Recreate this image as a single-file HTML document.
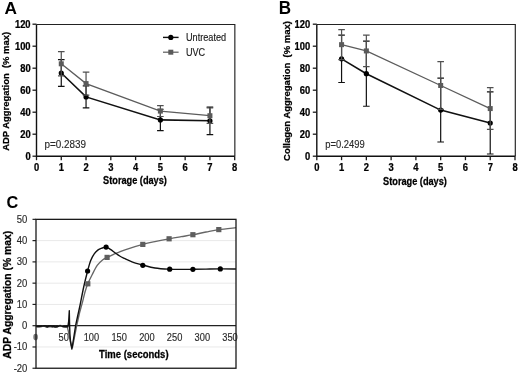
<!DOCTYPE html>
<html><head><meta charset="utf-8"><style>html,body{margin:0;padding:0;background:#fff;width:520px;height:373px;overflow:hidden}svg{display:block;will-change:transform}</style></head>
<body>
<svg width="520" height="373" viewBox="0 0 520 373" font-family='"Liberation Sans", sans-serif'>
<rect width="520" height="373" fill="#fff"/>
<text transform="translate(4.6,14.4) scale(1.08,1)" font-size="16" font-weight="bold" fill="#000" xml:space="preserve">A</text>
<path d="M36.5,24.45 H234.85 V156.2" fill="none" stroke="#222" stroke-width="1.15"/>
<path d="M36.5,24.45 V156.2 H234.85" fill="none" stroke="#111" stroke-width="1.4"/>
<line x1="32.5" y1="156.2" x2="36.5" y2="156.2" stroke="#1a1a1a" stroke-width="1.3"/>
<text transform="translate(30.6,159.6) scale(0.94,1)" font-size="10" font-weight="bold" text-anchor="end" fill="#000" stroke="#000" stroke-width="0.25" xml:space="preserve">0</text>
<line x1="32.5" y1="134.2" x2="36.5" y2="134.2" stroke="#1a1a1a" stroke-width="1.3"/>
<text transform="translate(30.6,137.6) scale(0.94,1)" font-size="10" font-weight="bold" text-anchor="end" fill="#000" stroke="#000" stroke-width="0.25" xml:space="preserve">20</text>
<line x1="32.5" y1="112.2" x2="36.5" y2="112.2" stroke="#1a1a1a" stroke-width="1.3"/>
<text transform="translate(30.6,115.6) scale(0.94,1)" font-size="10" font-weight="bold" text-anchor="end" fill="#000" stroke="#000" stroke-width="0.25" xml:space="preserve">40</text>
<line x1="32.5" y1="90.2" x2="36.5" y2="90.2" stroke="#1a1a1a" stroke-width="1.3"/>
<text transform="translate(30.6,93.6) scale(0.94,1)" font-size="10" font-weight="bold" text-anchor="end" fill="#000" stroke="#000" stroke-width="0.25" xml:space="preserve">60</text>
<line x1="32.5" y1="68.2" x2="36.5" y2="68.2" stroke="#1a1a1a" stroke-width="1.3"/>
<text transform="translate(30.6,71.6) scale(0.94,1)" font-size="10" font-weight="bold" text-anchor="end" fill="#000" stroke="#000" stroke-width="0.25" xml:space="preserve">80</text>
<line x1="32.5" y1="46.2" x2="36.5" y2="46.2" stroke="#1a1a1a" stroke-width="1.3"/>
<text transform="translate(30.6,49.6) scale(0.94,1)" font-size="10" font-weight="bold" text-anchor="end" fill="#000" stroke="#000" stroke-width="0.25" xml:space="preserve">100</text>
<line x1="32.5" y1="24.2" x2="36.5" y2="24.2" stroke="#1a1a1a" stroke-width="1.3"/>
<text transform="translate(30.6,27.6) scale(0.94,1)" font-size="10" font-weight="bold" text-anchor="end" fill="#000" stroke="#000" stroke-width="0.25" xml:space="preserve">120</text>
<line x1="36.5" y1="156.2" x2="36.5" y2="160.2" stroke="#1a1a1a" stroke-width="1.3"/>
<text transform="translate(36.5,171) scale(0.94,1)" font-size="10" font-weight="bold" text-anchor="middle" fill="#000" stroke="#000" stroke-width="0.25" xml:space="preserve">0</text>
<line x1="61.27" y1="156.2" x2="61.27" y2="160.2" stroke="#1a1a1a" stroke-width="1.3"/>
<text transform="translate(61.27,171) scale(0.94,1)" font-size="10" font-weight="bold" text-anchor="middle" fill="#000" stroke="#000" stroke-width="0.25" xml:space="preserve">1</text>
<line x1="86.05" y1="156.2" x2="86.05" y2="160.2" stroke="#1a1a1a" stroke-width="1.3"/>
<text transform="translate(86.05,171) scale(0.94,1)" font-size="10" font-weight="bold" text-anchor="middle" fill="#000" stroke="#000" stroke-width="0.25" xml:space="preserve">2</text>
<line x1="110.82" y1="156.2" x2="110.82" y2="160.2" stroke="#1a1a1a" stroke-width="1.3"/>
<text transform="translate(110.82,171) scale(0.94,1)" font-size="10" font-weight="bold" text-anchor="middle" fill="#000" stroke="#000" stroke-width="0.25" xml:space="preserve">3</text>
<line x1="135.6" y1="156.2" x2="135.6" y2="160.2" stroke="#1a1a1a" stroke-width="1.3"/>
<text transform="translate(135.6,171) scale(0.94,1)" font-size="10" font-weight="bold" text-anchor="middle" fill="#000" stroke="#000" stroke-width="0.25" xml:space="preserve">4</text>
<line x1="160.38" y1="156.2" x2="160.38" y2="160.2" stroke="#1a1a1a" stroke-width="1.3"/>
<text transform="translate(160.38,171) scale(0.94,1)" font-size="10" font-weight="bold" text-anchor="middle" fill="#000" stroke="#000" stroke-width="0.25" xml:space="preserve">5</text>
<line x1="185.15" y1="156.2" x2="185.15" y2="160.2" stroke="#1a1a1a" stroke-width="1.3"/>
<text transform="translate(185.15,171) scale(0.94,1)" font-size="10" font-weight="bold" text-anchor="middle" fill="#000" stroke="#000" stroke-width="0.25" xml:space="preserve">6</text>
<line x1="209.92" y1="156.2" x2="209.92" y2="160.2" stroke="#1a1a1a" stroke-width="1.3"/>
<text transform="translate(209.92,171) scale(0.94,1)" font-size="10" font-weight="bold" text-anchor="middle" fill="#000" stroke="#000" stroke-width="0.25" xml:space="preserve">7</text>
<line x1="234.7" y1="156.2" x2="234.7" y2="160.2" stroke="#1a1a1a" stroke-width="1.3"/>
<text transform="translate(234.7,171) scale(0.94,1)" font-size="10" font-weight="bold" text-anchor="middle" fill="#000" stroke="#000" stroke-width="0.25" xml:space="preserve">8</text>
<text transform="translate(135,184.4) scale(0.92,1)" font-size="10" font-weight="bold" text-anchor="middle" fill="#000" stroke="#000" stroke-width="0.25" xml:space="preserve">Storage (days)</text>
<text transform="translate(8.9,91.4) rotate(-90) scale(0.964,1)" font-size="9.8" font-weight="bold" text-anchor="middle" fill="#000" stroke="#000" stroke-width="0.25" xml:space="preserve">ADP Aggregation  (% max)</text>
<text transform="translate(44.5,147.7) scale(0.99,1)" font-size="10" fill="#2a2a2a" stroke="#2a2a2a" stroke-width="0.15" xml:space="preserve">p=0.2839</text>
<path d="M61.27,59.62 V86.46 M57.98,59.62 h6.6 M57.98,86.46 h6.6" stroke="#111" stroke-width="1.2" fill="none"/>
<path d="M86.05,85.91 V107.91 M82.75,85.91 h6.6 M82.75,107.91 h6.6" stroke="#111" stroke-width="1.2" fill="none"/>
<path d="M160.38,109.23 V130.57 M157.07,109.23 h6.6 M157.07,130.57 h6.6" stroke="#111" stroke-width="1.2" fill="none"/>
<path d="M209.92,107.03 V134.53 M206.62,107.03 h6.6 M206.62,134.53 h6.6" stroke="#111" stroke-width="1.2" fill="none"/>
<polyline points="61.27,73.04 86.05,96.91 160.38,119.9 209.92,120.78" fill="none" stroke="#111" stroke-width="1.6"/>
<circle cx="61.27" cy="73.04" r="2.6" fill="#000"/>
<circle cx="86.05" cy="96.91" r="2.6" fill="#000"/>
<circle cx="160.38" cy="119.9" r="2.6" fill="#000"/>
<circle cx="209.92" cy="120.78" r="2.6" fill="#000"/>
<path d="M61.27,51.7 V75.9 M57.98,51.7 h6.6 M57.98,75.9 h6.6" stroke="#505050" stroke-width="1.2" fill="none"/>
<path d="M86.05,72.05 V95.15 M82.75,72.05 h6.6 M82.75,95.15 h6.6" stroke="#505050" stroke-width="1.2" fill="none"/>
<path d="M160.38,105.71 V116.49 M157.07,105.71 h6.6 M157.07,116.49 h6.6" stroke="#505050" stroke-width="1.2" fill="none"/>
<path d="M209.92,108.02 V123.42 M206.62,108.02 h6.6 M206.62,123.42 h6.6" stroke="#505050" stroke-width="1.2" fill="none"/>
<polyline points="61.27,63.8 86.05,83.6 160.38,111.1 209.92,115.72" fill="none" stroke="#5c5c5c" stroke-width="1.3"/>
<rect x="58.77" y="61.3" width="5" height="5" fill="#5a5a5a"/>
<rect x="83.55" y="81.1" width="5" height="5" fill="#5a5a5a"/>
<rect x="157.88" y="108.6" width="5" height="5" fill="#5a5a5a"/>
<rect x="207.42" y="113.22" width="5" height="5" fill="#5a5a5a"/>
<line x1="163" y1="37.4" x2="178.6" y2="37.4" stroke="#111" stroke-width="1.4"/>
<circle cx="170.8" cy="37.4" r="2.6" fill="#000"/>
<line x1="163" y1="52.2" x2="178.6" y2="52.2" stroke="#5c5c5c" stroke-width="1.2"/>
<rect x="168.3" y="49.7" width="5" height="5" fill="#5a5a5a"/>
<text transform="translate(186,40.9) scale(0.915,1)" font-size="10" fill="#1a1a1a" stroke="#1a1a1a" stroke-width="0.15" xml:space="preserve">Untreated</text>
<text transform="translate(186,55.7) scale(0.91,1)" font-size="10" fill="#1a1a1a" stroke="#1a1a1a" stroke-width="0.15" xml:space="preserve">UVC</text>
<text transform="translate(278.8,14.4) scale(0.97,1)" font-size="17.6" font-weight="bold" fill="#000" xml:space="preserve">B</text>
<path d="M316.8,24.45 H515.3 V156.2" fill="none" stroke="#222" stroke-width="1.15"/>
<path d="M316.8,24.45 V156.2 H515.3" fill="none" stroke="#111" stroke-width="1.4"/>
<line x1="312.8" y1="156.2" x2="316.8" y2="156.2" stroke="#1a1a1a" stroke-width="1.3"/>
<text transform="translate(310.2,159.6) scale(0.94,1)" font-size="10" font-weight="bold" text-anchor="end" fill="#000" stroke="#000" stroke-width="0.25" xml:space="preserve">0</text>
<line x1="312.8" y1="134.2" x2="316.8" y2="134.2" stroke="#1a1a1a" stroke-width="1.3"/>
<text transform="translate(310.2,137.6) scale(0.94,1)" font-size="10" font-weight="bold" text-anchor="end" fill="#000" stroke="#000" stroke-width="0.25" xml:space="preserve">20</text>
<line x1="312.8" y1="112.2" x2="316.8" y2="112.2" stroke="#1a1a1a" stroke-width="1.3"/>
<text transform="translate(310.2,115.6) scale(0.94,1)" font-size="10" font-weight="bold" text-anchor="end" fill="#000" stroke="#000" stroke-width="0.25" xml:space="preserve">40</text>
<line x1="312.8" y1="90.2" x2="316.8" y2="90.2" stroke="#1a1a1a" stroke-width="1.3"/>
<text transform="translate(310.2,93.6) scale(0.94,1)" font-size="10" font-weight="bold" text-anchor="end" fill="#000" stroke="#000" stroke-width="0.25" xml:space="preserve">60</text>
<line x1="312.8" y1="68.2" x2="316.8" y2="68.2" stroke="#1a1a1a" stroke-width="1.3"/>
<text transform="translate(310.2,71.6) scale(0.94,1)" font-size="10" font-weight="bold" text-anchor="end" fill="#000" stroke="#000" stroke-width="0.25" xml:space="preserve">80</text>
<line x1="312.8" y1="46.2" x2="316.8" y2="46.2" stroke="#1a1a1a" stroke-width="1.3"/>
<text transform="translate(310.2,49.6) scale(0.94,1)" font-size="10" font-weight="bold" text-anchor="end" fill="#000" stroke="#000" stroke-width="0.25" xml:space="preserve">100</text>
<line x1="312.8" y1="24.2" x2="316.8" y2="24.2" stroke="#1a1a1a" stroke-width="1.3"/>
<text transform="translate(310.2,27.6) scale(0.94,1)" font-size="10" font-weight="bold" text-anchor="end" fill="#000" stroke="#000" stroke-width="0.25" xml:space="preserve">120</text>
<line x1="316.8" y1="156.2" x2="316.8" y2="160.2" stroke="#1a1a1a" stroke-width="1.3"/>
<text transform="translate(316.8,171) scale(0.94,1)" font-size="10" font-weight="bold" text-anchor="middle" fill="#000" stroke="#000" stroke-width="0.25" xml:space="preserve">0</text>
<line x1="341.57" y1="156.2" x2="341.57" y2="160.2" stroke="#1a1a1a" stroke-width="1.3"/>
<text transform="translate(341.57,171) scale(0.94,1)" font-size="10" font-weight="bold" text-anchor="middle" fill="#000" stroke="#000" stroke-width="0.25" xml:space="preserve">1</text>
<line x1="366.35" y1="156.2" x2="366.35" y2="160.2" stroke="#1a1a1a" stroke-width="1.3"/>
<text transform="translate(366.35,171) scale(0.94,1)" font-size="10" font-weight="bold" text-anchor="middle" fill="#000" stroke="#000" stroke-width="0.25" xml:space="preserve">2</text>
<line x1="391.12" y1="156.2" x2="391.12" y2="160.2" stroke="#1a1a1a" stroke-width="1.3"/>
<text transform="translate(391.12,171) scale(0.94,1)" font-size="10" font-weight="bold" text-anchor="middle" fill="#000" stroke="#000" stroke-width="0.25" xml:space="preserve">3</text>
<line x1="415.9" y1="156.2" x2="415.9" y2="160.2" stroke="#1a1a1a" stroke-width="1.3"/>
<text transform="translate(415.9,171) scale(0.94,1)" font-size="10" font-weight="bold" text-anchor="middle" fill="#000" stroke="#000" stroke-width="0.25" xml:space="preserve">4</text>
<line x1="440.68" y1="156.2" x2="440.68" y2="160.2" stroke="#1a1a1a" stroke-width="1.3"/>
<text transform="translate(440.68,171) scale(0.94,1)" font-size="10" font-weight="bold" text-anchor="middle" fill="#000" stroke="#000" stroke-width="0.25" xml:space="preserve">5</text>
<line x1="465.45" y1="156.2" x2="465.45" y2="160.2" stroke="#1a1a1a" stroke-width="1.3"/>
<text transform="translate(465.45,171) scale(0.94,1)" font-size="10" font-weight="bold" text-anchor="middle" fill="#000" stroke="#000" stroke-width="0.25" xml:space="preserve">6</text>
<line x1="490.23" y1="156.2" x2="490.23" y2="160.2" stroke="#1a1a1a" stroke-width="1.3"/>
<text transform="translate(490.23,171) scale(0.94,1)" font-size="10" font-weight="bold" text-anchor="middle" fill="#000" stroke="#000" stroke-width="0.25" xml:space="preserve">7</text>
<line x1="515" y1="156.2" x2="515" y2="160.2" stroke="#1a1a1a" stroke-width="1.3"/>
<text transform="translate(515,171) scale(0.94,1)" font-size="10" font-weight="bold" text-anchor="middle" fill="#000" stroke="#000" stroke-width="0.25" xml:space="preserve">8</text>
<text transform="translate(415,184.7) scale(0.92,1)" font-size="10" font-weight="bold" text-anchor="middle" fill="#000" stroke="#000" stroke-width="0.25" xml:space="preserve">Storage (days)</text>
<text transform="translate(289.7,91) rotate(-90) scale(0.97,1)" font-size="9.8" font-weight="bold" text-anchor="middle" fill="#000" stroke="#000" stroke-width="0.25" xml:space="preserve">Collagen Aggregation  (% max)</text>
<text transform="translate(325.3,147.7) scale(0.94,1)" font-size="10" fill="#2a2a2a" stroke="#2a2a2a" stroke-width="0.15" xml:space="preserve">p=0.2499</text>
<path d="M341.57,35.2 V82.5 M338.27,35.2 h6.6 M338.27,82.5 h6.6" stroke="#111" stroke-width="1.2" fill="none"/>
<path d="M366.35,41.14 V106.26 M363.05,41.14 h6.6 M363.05,106.26 h6.6" stroke="#111" stroke-width="1.2" fill="none"/>
<path d="M440.68,78.21 V142.01 M437.38,78.21 h6.6 M437.38,142.01 h6.6" stroke="#111" stroke-width="1.2" fill="none"/>
<path d="M490.23,91.96 V154 M486.93,91.96 h6.6 M486.93,154 h6.6" stroke="#111" stroke-width="1.2" fill="none"/>
<polyline points="341.57,58.85 366.35,73.7 440.68,110.11 490.23,122.98" fill="none" stroke="#111" stroke-width="1.6"/>
<circle cx="341.57" cy="58.85" r="2.6" fill="#000"/>
<circle cx="366.35" cy="73.7" r="2.6" fill="#000"/>
<circle cx="440.68" cy="110.11" r="2.6" fill="#000"/>
<circle cx="490.23" cy="122.98" r="2.6" fill="#000"/>
<path d="M341.57,29.7 V59.62 M338.27,29.7 h6.6 M338.27,59.62 h6.6" stroke="#505050" stroke-width="1.2" fill="none"/>
<path d="M366.35,35.2 V66.66 M363.05,35.2 h6.6 M363.05,66.66 h6.6" stroke="#505050" stroke-width="1.2" fill="none"/>
<path d="M440.68,61.6 V109.34 M437.38,61.6 h6.6 M437.38,109.34 h6.6" stroke="#505050" stroke-width="1.2" fill="none"/>
<path d="M490.23,87.67 V129.47 M486.93,87.67 h6.6 M486.93,129.47 h6.6" stroke="#505050" stroke-width="1.2" fill="none"/>
<polyline points="341.57,44.66 366.35,50.93 440.68,85.47 490.23,108.57" fill="none" stroke="#5c5c5c" stroke-width="1.3"/>
<rect x="339.07" y="42.16" width="5" height="5" fill="#5a5a5a"/>
<rect x="363.85" y="48.43" width="5" height="5" fill="#5a5a5a"/>
<rect x="438.18" y="82.97" width="5" height="5" fill="#5a5a5a"/>
<rect x="487.73" y="106.07" width="5" height="5" fill="#5a5a5a"/>
<text transform="translate(6.4,207.95)" font-size="16.3" font-weight="bold" fill="#000" xml:space="preserve">C</text>
<line x1="36" y1="240.62" x2="236" y2="240.62" stroke="#e9e9e9" stroke-width="1"/>
<line x1="36" y1="261.89" x2="236" y2="261.89" stroke="#e9e9e9" stroke-width="1"/>
<line x1="36" y1="283.16" x2="236" y2="283.16" stroke="#e9e9e9" stroke-width="1"/>
<line x1="36" y1="304.43" x2="236" y2="304.43" stroke="#e9e9e9" stroke-width="1"/>
<line x1="36" y1="346.97" x2="236" y2="346.97" stroke="#e9e9e9" stroke-width="1"/>
<line x1="36" y1="325.7" x2="236" y2="325.7" stroke="#222" stroke-width="1.3"/>
<line x1="32.5" y1="368.24" x2="36" y2="368.24" stroke="#222" stroke-width="1.2"/>
<text transform="translate(27.4,371.74) scale(0.95,1)" font-size="10" text-anchor="end" fill="#2a2a2a" stroke="#2a2a2a" stroke-width="0.15" xml:space="preserve">-20</text>
<line x1="32.5" y1="346.97" x2="36" y2="346.97" stroke="#222" stroke-width="1.2"/>
<text transform="translate(27.4,350.47) scale(0.95,1)" font-size="10" text-anchor="end" fill="#2a2a2a" stroke="#2a2a2a" stroke-width="0.15" xml:space="preserve">-10</text>
<line x1="32.5" y1="325.7" x2="36" y2="325.7" stroke="#222" stroke-width="1.2"/>
<text transform="translate(27.4,329.2) scale(0.95,1)" font-size="10" text-anchor="end" fill="#2a2a2a" stroke="#2a2a2a" stroke-width="0.15" xml:space="preserve">0</text>
<line x1="32.5" y1="304.43" x2="36" y2="304.43" stroke="#222" stroke-width="1.2"/>
<text transform="translate(27.4,307.93) scale(0.95,1)" font-size="10" text-anchor="end" fill="#2a2a2a" stroke="#2a2a2a" stroke-width="0.15" xml:space="preserve">10</text>
<line x1="32.5" y1="283.16" x2="36" y2="283.16" stroke="#222" stroke-width="1.2"/>
<text transform="translate(27.4,286.66) scale(0.95,1)" font-size="10" text-anchor="end" fill="#2a2a2a" stroke="#2a2a2a" stroke-width="0.15" xml:space="preserve">20</text>
<line x1="32.5" y1="261.89" x2="36" y2="261.89" stroke="#222" stroke-width="1.2"/>
<text transform="translate(27.4,265.39) scale(0.95,1)" font-size="10" text-anchor="end" fill="#2a2a2a" stroke="#2a2a2a" stroke-width="0.15" xml:space="preserve">30</text>
<line x1="32.5" y1="240.62" x2="36" y2="240.62" stroke="#222" stroke-width="1.2"/>
<text transform="translate(27.4,244.12) scale(0.95,1)" font-size="10" text-anchor="end" fill="#2a2a2a" stroke="#2a2a2a" stroke-width="0.15" xml:space="preserve">40</text>
<line x1="32.5" y1="219.35" x2="36" y2="219.35" stroke="#222" stroke-width="1.2"/>
<text transform="translate(27.4,222.85) scale(0.95,1)" font-size="10" text-anchor="end" fill="#2a2a2a" stroke="#2a2a2a" stroke-width="0.15" xml:space="preserve">50</text>
<ellipse cx="35.6" cy="337.1" rx="2.3" ry="3.3" fill="#7a7a7a"/>
<text transform="translate(63.72,340.6) scale(0.93,1)" font-size="10" text-anchor="middle" fill="#2a2a2a" stroke="#2a2a2a" stroke-width="0.15" xml:space="preserve">50</text>
<text transform="translate(91.44,340.6) scale(0.93,1)" font-size="10" text-anchor="middle" fill="#2a2a2a" stroke="#2a2a2a" stroke-width="0.15" xml:space="preserve">100</text>
<text transform="translate(119.16,340.6) scale(0.93,1)" font-size="10" text-anchor="middle" fill="#2a2a2a" stroke="#2a2a2a" stroke-width="0.15" xml:space="preserve">150</text>
<text transform="translate(146.88,340.6) scale(0.93,1)" font-size="10" text-anchor="middle" fill="#2a2a2a" stroke="#2a2a2a" stroke-width="0.15" xml:space="preserve">200</text>
<text transform="translate(174.6,340.6) scale(0.93,1)" font-size="10" text-anchor="middle" fill="#2a2a2a" stroke="#2a2a2a" stroke-width="0.15" xml:space="preserve">250</text>
<text transform="translate(202.32,340.6) scale(0.93,1)" font-size="10" text-anchor="middle" fill="#2a2a2a" stroke="#2a2a2a" stroke-width="0.15" xml:space="preserve">300</text>
<text transform="translate(230.04,340.6) scale(0.93,1)" font-size="10" text-anchor="middle" fill="#2a2a2a" stroke="#2a2a2a" stroke-width="0.15" xml:space="preserve">350</text>
<text transform="translate(133.8,358.4) scale(0.95,1)" font-size="10" font-weight="bold" text-anchor="middle" fill="#000" stroke="#000" stroke-width="0.25" xml:space="preserve">Time (seconds)</text>
<text transform="translate(11.2,294.8) rotate(-90) scale(1.04,1)" font-size="10.0" font-weight="bold" text-anchor="middle" fill="#000" stroke="#000" stroke-width="0.25" xml:space="preserve">ADP Aggregation (% max)</text>
<path d="M36,326.72 L37.6,326.77 L39.2,327.11 L40.8,326.88 L42.4,326.46 L44,325.86 L45.6,326.8 L47.2,327.38 L48.8,326.87 L50.4,326.67 L52,327.13 L53.6,327.06 L55.2,327.26 L56.8,327.28 L58.4,326.46 L60,325.42 L61.6,325.67 L63.2,326.29 L64.8,326.82 L66.4,326.97 L67.3,327.2 L68.3,331 L69.3,336 L70.3,341 L71.4,346 L72.4,347.5 L73.8,340.5 L76.6,326 L79.5,313 C80,311.17 81.58,305.5 82.5,302 C83.42,298.5 84.12,295.03 85,292 C85.88,288.97 86.63,286.63 87.8,283.8 C88.97,280.97 90.43,278.07 92,275 C93.57,271.93 95.4,267.95 97.2,265.4 C99,262.85 101.15,261.03 102.8,259.7 C104.45,258.37 105.37,258.25 107.1,257.4 C108.83,256.55 111.4,255.38 113.2,254.6 C115,253.82 115.93,253.5 117.9,252.7 C119.87,251.9 120.85,251.18 125,249.8 C129.15,248.42 137.63,245.8 142.8,244.4 C147.97,243 151.62,242.33 156,241.4 C160.38,240.47 164.93,239.58 169.1,238.8 C173.27,238.02 177.03,237.38 181,236.7 C184.97,236.02 188.73,235.48 192.9,234.7 C197.07,233.92 201.68,232.85 206,232 C210.32,231.15 213.8,230.32 218.8,229.6 C223.8,228.88 233.13,228.02 236,227.7" fill="none" stroke="#666" stroke-width="1.35" stroke-linejoin="round"/>
<path d="M36,326.08 L37.6,326.62 L39.2,326.41 L40.8,326.31 L42.4,326.12 L44,325.74 L45.6,326.01 L47.2,326.9 L48.8,326.2 L50.4,325.86 L52,326.46 L53.6,326.22 L55.2,326.85 L56.8,326.54 L58.4,326.41 L60,325.71 L61.6,326.19 L63.2,326.71 L64.8,326.62 L66.4,326.7 L67,326.4 L67.9,326.9 L68.7,321 L69.3,310.7 L69.5,322 L69.9,334 L70.5,341.5 L71.9,349 L73.6,338.5 L75.7,325.2 L78,314.5 C78.35,312.92 79.15,309.58 80.1,305 C81.05,300.42 82.45,292.67 83.7,287 C84.95,281.33 86.45,275.38 87.6,271 C88.75,266.62 89.47,263.6 90.6,260.7 C91.73,257.8 93.15,255.4 94.4,253.6 C95.65,251.8 96.93,250.78 98.1,249.9 C99.27,249.02 100.07,248.77 101.4,248.3 C102.73,247.83 104.6,246.92 106.1,247.1 C107.6,247.28 108.92,248.47 110.4,249.4 C111.88,250.33 113.45,251.6 115,252.7 C116.55,253.8 118.13,255.05 119.7,256 C121.27,256.95 122.35,257.43 124.4,258.4 C126.45,259.37 128.93,260.7 132,261.8 C135.07,262.9 138.97,263.97 142.8,265 C146.63,266.03 150.52,267.3 155,268 C159.48,268.7 165.2,268.97 169.7,269.2 C174.2,269.43 178.13,269.38 182,269.4 C185.87,269.42 188.9,269.35 192.9,269.3 C196.9,269.25 201.43,269.17 206,269.1 C210.57,269.03 215.3,268.92 220.3,268.9 C225.3,268.88 233.38,268.98 236,269" fill="none" stroke="#111" stroke-width="1.4" stroke-linejoin="round"/>
<rect x="85.2" y="281.2" width="5.2" height="5.2" fill="#5e5e5e"/>
<rect x="104.5" y="254.8" width="5.2" height="5.2" fill="#5e5e5e"/>
<rect x="140.2" y="241.8" width="5.2" height="5.2" fill="#5e5e5e"/>
<rect x="166.5" y="236.2" width="5.2" height="5.2" fill="#5e5e5e"/>
<rect x="190.3" y="232.1" width="5.2" height="5.2" fill="#5e5e5e"/>
<rect x="216.2" y="227" width="5.2" height="5.2" fill="#5e5e5e"/>
<circle cx="87.6" cy="271" r="2.6" fill="#000"/>
<circle cx="106.1" cy="247.1" r="2.6" fill="#000"/>
<circle cx="142.8" cy="265.3" r="2.6" fill="#000"/>
<circle cx="169.7" cy="269.2" r="2.6" fill="#000"/>
<circle cx="192.9" cy="269.3" r="2.6" fill="#000"/>
<circle cx="220.3" cy="268.9" r="2.6" fill="#000"/>
<rect x="36" y="219.35" width="200" height="148.89" fill="none" stroke="#1a1a1a" stroke-width="1.3"/>
</svg>
</body></html>
